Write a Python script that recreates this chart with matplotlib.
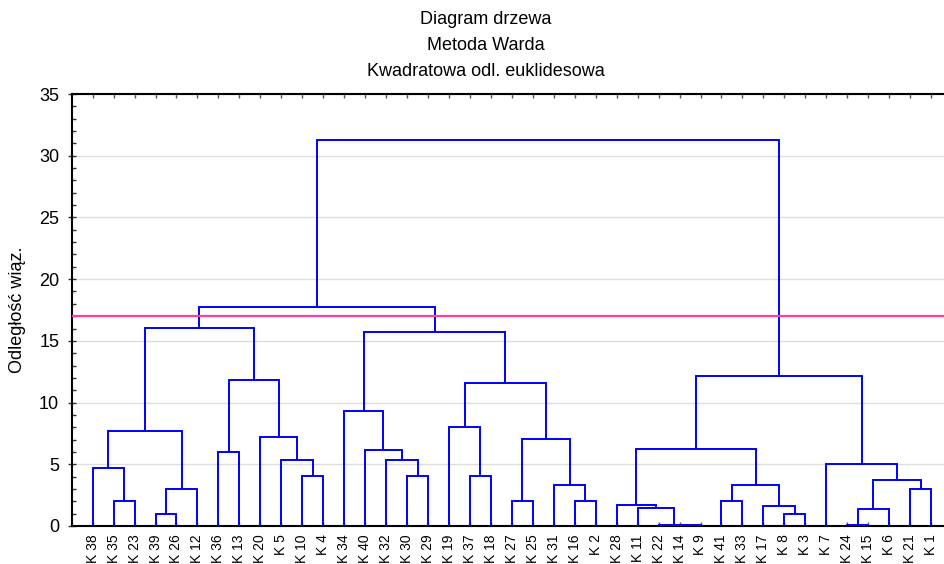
import matplotlib
matplotlib.use("Agg")
import matplotlib.pyplot as plt
from matplotlib.ticker import MultipleLocator

plt.rcParams['font.family'] = ['Liberation Sans', 'DejaVu Sans']

# leaf order along the x axis
labels = ['K 38', 'K 35', 'K 23', 'K 39', 'K 26', 'K 12', 'K 36', 'K 13', 'K 20', 'K 5',
          'K 10', 'K 4', 'K 34', 'K 40', 'K 32', 'K 30', 'K 29', 'K 19', 'K 37', 'K 18',
          'K 27', 'K 25', 'K 31', 'K 16', 'K 2', 'K 28', 'K 11', 'K 22', 'K 14', 'K 9',
          'K 41', 'K 33', 'K 17', 'K 8', 'K 3', 'K 7', 'K 24', 'K 15', 'K 6', 'K 21', 'K 1']

# joins: (left, right, distance); ints point to an earlier join
left_part = [('K 35', 'K 23', 2.0), ('K 38', 0, 4.67), ('K 39', 'K 26', 1.0), (2, 'K 12', 3.0),
             (1, 3, 7.67), ('K 36', 'K 13', 6.02), ('K 10', 'K 4', 4.03), ('K 5', 6, 5.35),
             ('K 20', 7, 7.19), (5, 8, 11.86), (4, 9, 16.02)]
mid_part = [('K 30', 'K 29', 4.03), ('K 32', 11, 5.32), ('K 40', 12, 6.16), ('K 34', 13, 9.32),
            ('K 37', 'K 18', 4.03), ('K 19', 15, 8.02), ('K 27', 'K 25', 2.0), ('K 16', 'K 2', 2.0),
            ('K 31', 18, 3.35), (17, 19, 7.08), (16, 20, 11.62), (14, 21, 15.69), (10, 22, 17.72)]
right_part = [('K 14', 'K 9', 0.05), ('K 22', 24, 0.1), ('K 11', 25, 1.48), ('K 28', 26, 1.73),
              ('K 41', 'K 33', 2.0), ('K 8', 'K 3', 1.0), ('K 17', 29, 1.65), (28, 30, 3.35),
              (27, 31, 6.21), ('K 24', 'K 15', 0.05), (33, 'K 6', 1.38), ('K 21', 'K 1', 3.03),
              (34, 35, 3.7), ('K 7', 36, 5.02), (32, 37, 12.13), (23, 38, 31.28)]
merges = left_part + mid_part + right_part

cut_level = 17.0
yticks = [0, 5, 10, 15, 20, 25, 30, 35]

W, H = 945, 564
fig = plt.figure(figsize=(W / 100, H / 100), dpi=100)
ax = fig.add_axes([71.7 / W, 1 - 526 / H, 42 * 20.96 / W, 432 / H])

xpos = {lab: i + 1 for i, lab in enumerate(labels)}
nodes = []

def node(k):
    if isinstance(k, str):
        return xpos[k], 0.0
    return nodes[k]

for a, b, h in merges:
    xa, ya = node(a)
    xb, yb = node(b)
    ax.plot([xa, xa, xb, xb], [ya, h, h, yb], color='#0000FF', lw=1.4,
            solid_joinstyle='miter', zorder=3)
    nodes.append(((xa + xb) / 2, h))

ax.axhline(cut_level, color='#FF3D9E', lw=1.6, zorder=4)

ax.set_xlim(0, 42)
ax.set_ylim(0, 35)
ax.set_yticks(yticks)
ax.yaxis.set_minor_locator(MultipleLocator(1))
ax.set_xticks(range(1, len(labels) + 1))
ax.set_xticklabels(labels, rotation=90, fontsize=10)
ax.tick_params(axis='y', which='major', direction='inout', length=6, width=1,
               labelsize=13, pad=6, color='#333333')
ax.tick_params(axis='y', which='minor', direction='in', length=3, width=1, color='#333333')
ax.tick_params(axis='x', which='major', direction='in', length=3, width=1, pad=6,
               top=True, color='#555555')
ax.grid(axis='y', color='#DDDDDD', lw=1)
ax.set_axisbelow(True)
for s in ['left', 'bottom', 'top']:
    ax.spines[s].set_linewidth(1.5)
ax.spines['right'].set_visible(False)

fig.text(18 / W, 1 - 310 / H, 'Odległość wiąz.', rotation=90, fontsize=13,
         ha='center', va='center')
for t, yb in zip(['Diagram drzewa', 'Metoda Warda', 'Kwadratowa odl. euklidesowa'], [24, 50, 76]):
    fig.text(485.5 / W, 1 - yb / H, t, fontsize=13, ha='center', va='baseline')

fig.savefig('out.png', dpi=100)
